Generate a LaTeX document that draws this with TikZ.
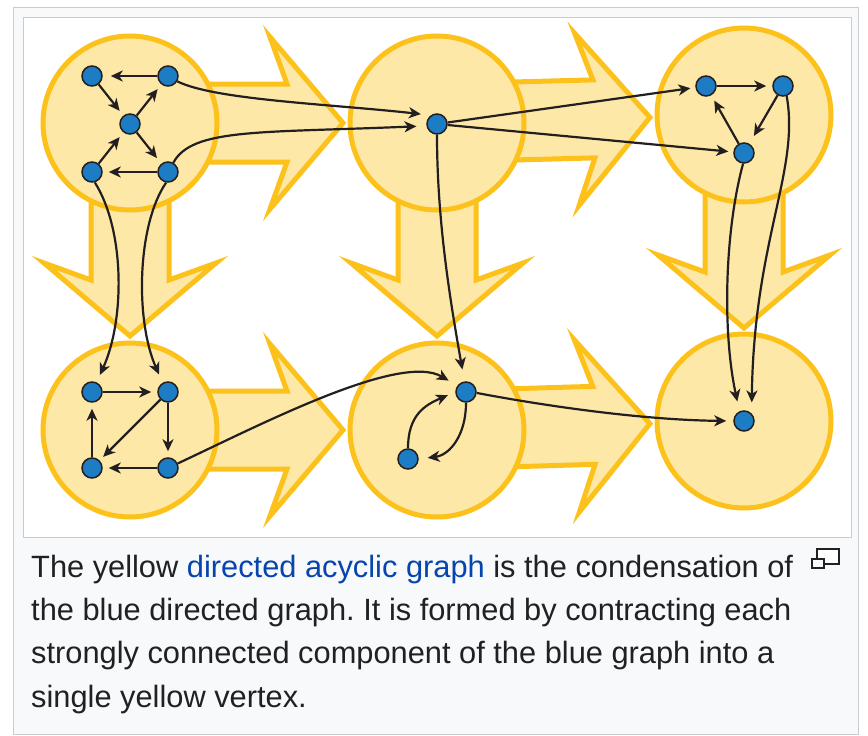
\documentclass[tikz,border=0pt]{standalone}
\usepackage{fontspec}
\setmainfont{Liberation Sans}
\usetikzlibrary{arrows.meta}
\definecolor{sccfill}{HTML}{FDE8A7}
\definecolor{sccline}{HTML}{FCC21B}
\definecolor{vertexblue}{HTML}{1C7CC4}
\definecolor{ink}{HTML}{231F20}
\definecolor{framegray}{HTML}{C8CCD1}
\definecolor{capbg}{HTML}{F8F9FA}
\definecolor{linkblue}{HTML}{0645AD}
\definecolor{captext}{HTML}{202122}
\pgfdeclarelayer{frame}
\pgfdeclarelayer{arrows}
\pgfsetlayers{frame,arrows,main}
\frenchspacing

\begin{document}
\begin{tikzpicture}[
    x=1pt, y=-1pt,
    scc/.style={
        circle,
        draw=sccline,
        fill=sccfill,
        line width=5pt,
        minimum size=174pt,
        inner sep=0pt
    },
    vertex/.style={
        circle,
        draw=ink,
        fill=vertexblue,
        line width=1.5pt,
        minimum size=20pt,
        inner sep=0pt
    },
    edge/.style={-{Stealth[length=12pt,width=11pt,inset=3.5pt]}, line width=2.2pt, color=ink, shorten >=6pt},
    bigarrow/.pic={
        \draw[draw=sccline, fill=sccfill, line width=5pt]
            (0,39) -- (157,39) -- (140,86) -- (213,0) -- (140,-86) -- (157,-39) -- (0,-39) -- cycle;
    },
    caption/.style={anchor=base west, inner sep=0pt, text=captext,
        font=\fontsize{30.8pt}{43pt}\selectfont}
]
\useasboundingbox (0,0) rectangle (868,736);

%==========================
% frame
%==========================
\begin{pgfonlayer}{frame}
\draw[framegray, fill=capbg, line width=1pt] (13.5,7.5) rectangle (858.5,734.5);
\draw[framegray, fill=white, line width=1pt] (23.5,17.5) rectangle (851.5,537.5);
\end{pgfonlayer}

%==========================
% condensation (yellow)
%==========================
\node[scc] (tl) at (130,123) {};
\node[scc] (tm) at (437,123) {};
\node[scc] (tr) at (744,115) {};
\node[scc] (bl) at (130,430) {};
\node[scc] (bm) at (437,430) {};
\node[scc] (br) at (744,421) {};

\begin{pgfonlayer}{arrows}
\pic at (tl) {bigarrow};
\pic[rotate=1.5] at (tm) {bigarrow};
\pic[rotate=-90] at (tl) {bigarrow};
\pic[rotate=-90] at (tm) {bigarrow};
\pic[rotate=-90] at (tr) {bigarrow};
\pic at (bl) {bigarrow};
\pic[rotate=1.7] at (bm) {bigarrow};
\end{pgfonlayer}

%==========================
% blue graph
%==========================
\node[vertex] (a1) at (92,76)   {};
\node[vertex] (a2) at (168,76)  {};
\node[vertex] (a3) at (130,124) {};
\node[vertex] (a4) at (92,172)  {};
\node[vertex] (a5) at (168,172) {};

\node[vertex] (b1) at (437,124) {};

\node[vertex] (c1) at (706,86)  {};
\node[vertex] (c2) at (783,86)  {};
\node[vertex] (c3) at (744,153) {};

\node[vertex] (d1) at (92,392)  {};
\node[vertex] (d2) at (168,392) {};
\node[vertex] (d3) at (92,468)  {};
\node[vertex] (d4) at (168,468) {};

\node[vertex] (e1) at (466,392) {};
\node[vertex] (e2) at (408,459) {};

\node[vertex] (f1) at (744,421) {};

\draw[edge, shorten >=8pt] (a2) -- (a1);
\draw[edge] (a1) -- (a3);
\draw[edge] (a3) -- (a2);
\draw[edge] (a4) -- (a3);
\draw[edge, shorten >=7pt] (a3) -- (a5);
\draw[edge] (a5) -- (a4);

\draw[edge, shorten >=10pt] (a2.-30) .. controls (215,100) and (330,104) .. (b1.125);
\draw[edge, shorten >=10pt] (a5.60) .. controls (192,128) and (260,133) .. (b1.190);

\draw[edge, shorten >=5pt] (b1) -- (c1);
\draw[edge, shorten >=5pt] (b1) -- (c3);

\draw[edge] (c1) -- (c2);
\draw[edge, shorten >=9pt] (c2) -- (c3);
\draw[edge] (c3) -- (c1);

\draw[edge, shorten >=10pt] (c3.-95) .. controls (725,230) and (722,330) .. (f1.115);
\draw[edge, shorten >=11pt] (c2.-70) .. controls (800,170) and (754,240) .. (f1.45);

\draw[edge, shorten >=8pt] (a4.-75) .. controls (125,230) and (125,320) .. (d1.65);
\draw[edge, shorten >=9pt] (a5.-100) .. controls (137,225) and (135,320) .. (d2.120);

\draw[edge] (d1) -- (d2);
\draw[edge] (d2) -- (d4);
\draw[edge] (d4) -- (d3);
\draw[edge] (d3) -- (d1);
\draw[edge, shorten >=5pt] (d2) -- (d3);

\draw[edge, shorten >=10pt] (d4.25) .. controls (260,425) and (400,352) .. (e1.144);
\draw[edge, shorten >=12pt] (b1.-90) .. controls (437,220) and (450,300) .. (e1.98);
\draw[edge, shorten >=8pt] (e2.90) .. controls (408,415) and (425,405) .. (e1.180);
\draw[edge, shorten >=9pt] (e1.-90) .. controls (466,435) and (450,455) .. (e2.0);
\draw[edge, shorten >=7pt] (e1.-5) .. controls (540,405) and (640,420) .. (f1.180);

%==========================
% caption
%==========================
\node[caption] (cap1) at (31,577) {The yellow \textcolor{linkblue}{directed acyclic graph} is the condensation of};
\node[caption] (cap2) at (31,620) {the blue directed graph. It is formed by contracting each};
\node[caption] (cap3) at (31,663) {strongly connected component of the blue graph into a};
\node[caption] (cap4) at (31,707) {single yellow vertex.};

\draw[captext, line width=1.4pt, fill=white] (817,549) rectangle (839,564);
\draw[captext, line width=1.4pt, fill=capbg] (812,559) rectangle (824,568);

\end{tikzpicture}
\end{document}
